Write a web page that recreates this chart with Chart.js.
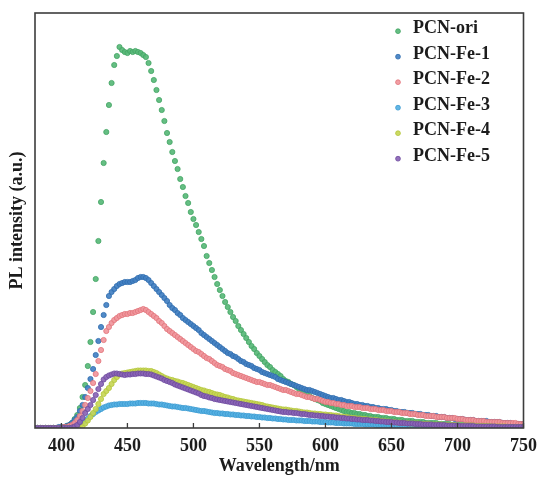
<!DOCTYPE html>
<html>
<head>
<meta charset="utf-8">
<script src="https://cdn.jsdelivr.net/npm/chart.js@4.4.1/dist/chart.umd.min.js"></script>
<style>
  html, body { margin: 0; padding: 0; background: #ffffff; }
  #wrap { width: 545px; height: 477px; position: relative; }
</style>
</head>
<body>
<div id="wrap"><canvas id="pl"></canvas></div>
<script>
// Emission spectra sampled every 2 nm from 380 nm to 750 nm
const WL_START = 380;
const WL_STEP = 2;

const seriesNames = ['PCN-ori', 'PCN-Fe-1', 'PCN-Fe-2', 'PCN-Fe-3', 'PCN-Fe-4', 'PCN-Fe-5'];

const pcnOri = [
  0,0,0,0,0,0,0,0,0,0,
  0,1,2,3,5,9,13,20,31,43,
  62,86,116,149,187,226,265,296,323,345,
  363,372,381,378,376,375,377,376,377,376,
  375,373,371,365,357,348,338,328,318,307,
  295,286,276,267,259,249,241,232,225,216,
  209,203,196,189,182,172,165,158,151,144,
  138,132,126,121,116,111,107,102,98,94,
  90,86,82,79,75,72,69,66,63,61,
  58,56,54,52,49,47,46,44,43,41,
  39,38,36,34,32,30,29,28,27,25,
  24,23,22,21,20,19,18,17,16,16,
  15,15,14,14,13,13,12,12,11,11,
  11,10,10,10,9,9,9,8,8,8,
  7,7,7,7,6,6,6,6,5,5,
  5,5,5,4,4,4,4,4,3,3,
  3,3,3,3,3,3,2,2,2,2,
  2,2,2,2,2,2,2,1,1,1,
  1,1,1,1,1,1
];

const pcnFe1 = [
  0,0,0,0,0,0,0,0,0,1,
  1,1,2,3,5,8,11,17,23,31,
  40,49,59,73,87,101,113,123,132,136,
  139,142,144,145,146,146,146,147,148,150,
  151,151,150,148,145,142,139,136,133,130,
  127,123,120,118,115,113,110,108,106,104,
  102,100,98,95,93,91,89,87,85,83,
  81,79,77,75,74,72,71,69,67,66,
  64,63,62,60,59,58,56,55,54,53,
  52,51,49,48,47,46,45,44,43,42,
  41,40,39,38,38,37,36,35,34,33,
  32,31,30,30,29,28,28,27,26,26,
  25,24,24,23,23,22,22,21,21,20,
  20,19,19,19,18,18,17,17,16,16,
  16,15,15,15,14,14,14,13,13,13,
  12,12,12,11,11,11,10,10,10,9,
  9,9,9,8,8,8,8,7,7,7,
  7,7,6,6,6,6,6,5,5,5,
  5,4,4,4,4,4
];

const pcnFe2 = [
  0,0,0,0,0,0,0,0,0,0,
  0,1,1,2,3,5,8,12,17,23,
  30,37,45,54,67,78,88,97,101,105,
  108,110,112,113,114,114,115,115,116,117,
  118,119,118,116,114,112,110,107,105,102,
  99,97,95,93,91,89,87,85,83,81,
  79,77,76,74,72,70,69,67,65,63,
  62,61,59,58,57,55,54,53,52,51,
  50,49,48,47,46,46,45,44,43,43,
  42,41,40,39,38,38,37,36,35,34,
  34,33,32,31,31,30,29,29,28,27,
  26,26,25,25,24,24,23,23,22,22,
  22,21,21,21,20,20,20,19,19,19,
  18,18,18,17,17,17,16,16,16,15,
  15,15,14,14,14,13,13,13,12,12,
  12,12,11,11,11,11,10,10,10,10,
  9,9,9,8,8,8,8,7,7,7,
  7,6,6,6,6,6,6,5,5,5,
  5,5,5,4,4,4
];

const pcnFe3 = [
  0,0,0,0,0,0,0,0,0,0,
  0,0,0,0,0,0.5,1.5,3,5,7,
  9.5,12,14,16,17.5,19,20.5,21.5,22.5,23,
  23.5,23.5,24,24,24,24,24.5,24.5,24.5,25,
  25,25,25,24.5,24.5,24.5,24,23.5,23.5,23,
  22.5,22,21.5,21.5,21,20.5,20,20,19.5,19,
  18.5,18,17.5,17,17,16.5,16,15.5,15,15,
  14.5,14.5,14,14,13.5,13.5,13,13,12.5,12.5,
  12,12,11.5,11.5,11,11,10.5,10.5,10,10,
  9.5,9.5,9,9,8.5,8.5,8,8,8,7.5,
  7.5,7.5,7,7,7,6.5,6.5,6.5,6,6,
  6,5.5,5.5,5.5,5,5,5,4.5,4.5,4.5,
  4.5,4,4,4,4,3.5,3.5,3.5,3.5,3,
  3,3,3,3,2.5,2.5,2.5,2.5,2.5,2.5,
  2,2,2,2,2,2,2,2,1.5,1.5,
  1.5,1.5,1.5,1.5,1.5,1.5,1.5,1.5,1.5,1,
  1,1,1,1,1,1,1,1,1,1,
  1,1,1,1,1,1,1,1,1,1,
  1,0.5,0.5,0.5,0.5,0.5
];

const pcnFe4 = [
  0,0,0,0,0,0,0,0,0,0,
  0,0,0,0,0,0,0,0.5,1.5,4.5,
  7.5,11,15,19,24,29,34,37,40,44,
  48,51,53.5,54.5,55,55.5,56,56.5,57,57.5,
  57.5,57.5,57.5,57,57,56,55,53.5,52,50.5,
  49.5,48.5,48,47,46.5,45.5,45,44,43,42,
  41,40,39,38,37.5,36.5,36,35,34,33.5,
  33,32,31,30.5,29.5,29,28,27.5,27,26.5,
  26,25.5,25,24.5,24,23.5,23,22,21.5,21,
  20.5,20,19.5,19,18.5,18.5,18,17.5,17,17,
  16.5,16,15.5,15.5,15,14.5,14.5,14,14,13.5,
  13.5,13,13,12.5,12.5,12,11.5,11,11,10.5,
  10,10,9.5,9.5,9,9,8.5,8.5,8,8,
  7.5,7,7,6.5,6.5,6,6,5.5,5.5,5,
  5,5,4.5,4.5,4.5,4.5,4,4,4,4,
  3.5,3.5,3.5,3.5,3.5,3,3,3,3,3,
  2.5,2.5,2.5,2.5,2.5,2.5,2.5,2,2,2,
  2,2,2,1.5,1.5,1.5,1.5,1.5,1.5,1,
  1,1,1,1,1,1
];

const pcnFe5 = [
  0,0,0,0,0,0,0,0,0,0,
  0,0,0,0,0.5,1.5,3,6,10,15,
  19,23,28,33,39,44,48.5,51,52.5,53.5,
  54.5,54.5,54,53.5,53,53.5,53.5,54,54,54.5,
  54.5,54.5,54,54,53.5,52.5,51.5,50.5,49.5,48,
  47,46,45,43.5,42.5,41.5,40.5,39.5,38.5,37.5,
  36.5,35.5,34.5,33,32,31.5,30.5,30,29,28.5,
  28,27.5,27,26.5,26,25.5,25,24.5,24,23.5,
  23,22.5,22,21.5,21,20.5,20,19.5,19,18.5,
  18,17.5,17,16.5,16,16,15.5,15.5,15,15,
  14.5,14,14,13.5,13,13,12.5,12.5,12,12,
  11.5,11.5,11,11,10.5,10.5,10,10,9.5,9.5,
  9,9,8.5,8.5,8,8,8,7.5,7.5,7,
  7,6.5,6.5,6,6,6,5.5,5.5,5,5,
  5,4.5,4.5,4.5,4,4,4,3.5,3.5,3.5,
  3.5,3,3,3,3,3,2.5,2.5,2.5,2.5,
  2.5,2,2,2,2,2,2,1.5,1.5,1.5,
  1.5,1.5,1.5,1.5,1.5,1,1,1,1,1,
  1,1,1,1,1,1
];

const xTickLabels = [400, 450, 500, 550, 600, 650, 700, 750];

const seriesValues = [pcnOri, pcnFe1, pcnFe2, pcnFe3, pcnFe4, pcnFe5];
const fillColors = ['rgba(88,184,120,0.92)', 'rgba(66,128,194,0.92)', 'rgba(240,150,156,0.92)',
                    'rgba(86,176,226,0.92)', 'rgba(200,214,86,0.92)', 'rgba(138,100,182,0.92)'];
const edgeColors = ['#43a463', '#2f6cae', '#e2737a', '#3a9bd2', '#b4c63b', '#6d4a9e'];

const serif = '"Liberation Serif", "Times New Roman", Times, serif';
const textColor = '#1c1c1c';

const toPoints = vals => vals.map((v, i) => ({ x: WL_START + i * WL_STEP, y: v }));

// Box around the plot area plus inward-pointing ticks on the wavelength axis
const framePlugin = {
  id: 'frame',
  afterDatasetsDraw(chart) {
    const { ctx, chartArea: a, scales: { x } } = chart;
    ctx.save();
    ctx.strokeStyle = '#3d3d3d';
    ctx.lineWidth = 1.6;
    ctx.strokeRect(a.left, a.top, a.right - a.left, a.bottom - a.top);
    ctx.lineWidth = 1.3;
    ctx.beginPath();
    xTickLabels.forEach(v => {
      const px = x.getPixelForValue(v);
      ctx.moveTo(px, a.bottom);
      ctx.lineTo(px, a.bottom - 5);
    });
    ctx.stroke();
    ctx.restore();
  }
};

// Series key in the upper right corner of the plot
const keyPlugin = {
  id: 'key',
  afterDraw(chart) {
    const { ctx, chartArea: a } = chart;
    const dotX = a.right - 125.5;
    const textX = a.right - 110.5;
    const y0 = a.top + 15.7;
    const rowGap = 25.5;
    ctx.save();
    ctx.font = 'bold 18px ' + serif;
    ctx.textBaseline = 'middle';
    ctx.textAlign = 'left';
    chart.data.datasets.forEach((ds, i) => {
      const y = y0 + i * rowGap;
      ctx.beginPath();
      ctx.arc(dotX, y + 2.5, 2.4, 0, Math.PI * 2);
      ctx.fillStyle = ds.backgroundColor;
      ctx.fill();
      ctx.lineWidth = 0.8;
      ctx.strokeStyle = ds.borderColor;
      ctx.stroke();
      ctx.fillStyle = textColor;
      ctx.fillText(ds.label, textX, y);
    });
    ctx.restore();
  }
};

new Chart(document.getElementById('pl'), {
  type: 'scatter',
  data: {
    datasets: seriesNames.map((name, i) => ({
      label: name,
      data: toPoints(seriesValues[i]),
      backgroundColor: fillColors[i],
      borderColor: edgeColors[i],
      borderWidth: 0.8,
      pointRadius: 2.6,
      pointHoverRadius: 2.6,
      showLine: false,
      order: seriesNames.length - i
    }))
  },
  options: {
    responsive: true,
    maintainAspectRatio: false,
    animation: false,
    events: [],
    layout: { padding: { top: 13, right: 17, left: 0, bottom: 0 } },
    plugins: {
      legend: { display: false },
      tooltip: { enabled: false }
    },
    scales: {
      x: {
        type: 'linear',
        min: 380,
        max: 750,
        afterBuildTicks: s => { s.ticks = xTickLabels.map(v => ({ value: v })); },
        afterFit: s => { s.height = 49; },
        grid: { display: false, drawTicks: false },
        border: { display: false },
        ticks: {
          padding: 8,
          autoSkip: false,
          maxRotation: 0,
          color: textColor,
          font: { family: serif, size: 18, weight: 'bold' }
        },
        title: {
          display: true,
          text: 'Wavelength/nm',
          color: textColor,
          font: { family: serif, size: 18, weight: 'bold' },
          padding: { top: 0, bottom: 0 }
        }
      },
      y: {
        type: 'linear',
        min: 0,
        max: 415,
        afterFit: s => { s.width = 35; },
        grid: { display: false, drawTicks: false },
        border: { display: false },
        ticks: { display: false },
        title: {
          display: true,
          text: 'PL intensity (a.u.)',
          color: textColor,
          font: { family: serif, size: 18, weight: 'bold' },
          padding: { top: 7, bottom: 0 }
        }
      }
    }
  },
  plugins: [framePlugin, keyPlugin]
});
</script>
</body>
</html>
